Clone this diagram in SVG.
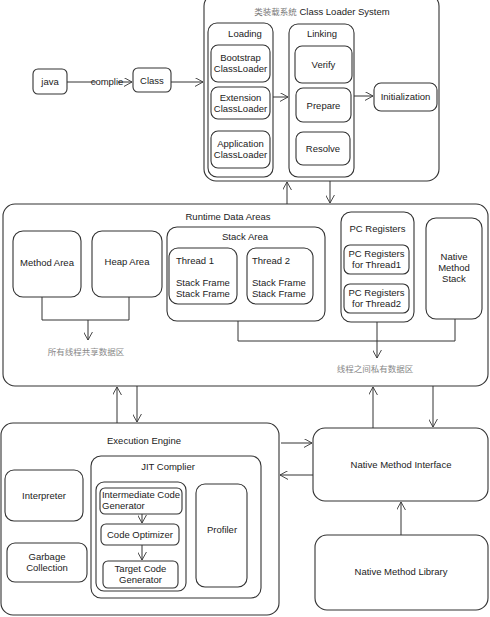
<svg xmlns="http://www.w3.org/2000/svg" width="490" height="617" viewBox="0 0 490 617">
<defs>
<marker id="arr" viewBox="0 0 10 10" refX="9" refY="5" markerWidth="9" markerHeight="9" orient="auto" markerUnits="userSpaceOnUse">
<path d="M0,0 L9,5 L0,10" fill="none" stroke="#333" stroke-width="1"/>
</marker>
<style>
rect{fill:#fff;stroke:#333;stroke-width:1.1}
text{font-family:"Liberation Sans",Arial,sans-serif;font-size:9.5px;fill:#222;text-anchor:middle}
.cn{font-family:"Noto Sans CJK SC","Liberation Sans",sans-serif;font-size:8.5px;fill:#888}
.c line,.c path{stroke:#333;stroke-width:1;fill:none}
.l{text-anchor:start}
</style>
</defs>
<rect x="0" y="0" width="490" height="617" style="fill:#fff;stroke:none"/>

<g id="class-loader-system">
<rect x="204" y="-6" width="235" height="187" rx="12"/>
<text x="322" y="15"><tspan class="cn" style="fill:#777">类装载系统</tspan> Class Loader System</text>
</g>
<g id="loading">
<rect x="208" y="23" width="65" height="154" rx="9"/>
<text x="245" y="37">Loading</text>
</g>
<g id="bootstrap"><rect x="211" y="45" width="59" height="37" rx="7"/><text x="240.5" y="61">Bootstrap</text><text x="240.5" y="72">ClassLoader</text></g>
<g id="extension"><rect x="211" y="87" width="59" height="32" rx="7"/><text x="240.5" y="101">Extension</text><text x="240.5" y="112">ClassLoader</text></g>
<g id="application"><rect x="211" y="131" width="59" height="37" rx="7"/><text x="240.5" y="147">Application</text><text x="240.5" y="158">ClassLoader</text></g>
<g id="linking">
<rect x="289" y="24" width="65" height="153" rx="9"/>
<text x="322" y="37">Linking</text>
</g>
<g id="verify"><rect x="295" y="46" width="57" height="37" rx="7"/><text x="323.5" y="68">Verify</text></g>
<g id="prepare"><rect x="296" y="88" width="55" height="34" rx="7"/><text x="323.5" y="109">Prepare</text></g>
<g id="resolve"><rect x="296" y="132" width="54" height="33" rx="7"/><text x="323" y="152">Resolve</text></g>
<g id="initialization"><rect x="374" y="83" width="63" height="28" rx="7"/><text x="405.5" y="100">Initialization</text></g>
<g id="java"><rect x="33" y="69" width="34" height="25" rx="5"/><text x="50" y="85">java</text></g>
<g id="class"><rect x="133" y="68" width="38" height="24" rx="5"/><text x="152" y="84">Class</text></g>

<g id="runtime-data-areas">
<rect x="3" y="204" width="485" height="182" rx="12"/>
<text x="228" y="220">Runtime Data Areas</text>
</g>
<g id="method-area"><rect x="13" y="231" width="68" height="66" rx="10"/><text x="47" y="266">Method Area</text></g>
<g id="heap-area"><rect x="92" y="231" width="70" height="66" rx="10"/><text x="127" y="265">Heap Area</text></g>
<g id="stack-area">
<rect x="167" y="227" width="158" height="94" rx="10"/>
<text x="245" y="240">Stack Area</text>
</g>
<g id="thread1"><rect x="169" y="248" width="68" height="56" rx="9"/><text class="l" x="176" y="264">Thread 1</text><text class="l" x="176" y="286">Stack Frame</text><text class="l" x="176" y="297">Stack Frame</text></g>
<g id="thread2"><rect x="247" y="248" width="66" height="56" rx="9"/><text class="l" x="252" y="264">Thread 2</text><text class="l" x="252" y="286">Stack Frame</text><text class="l" x="252" y="297">Stack Frame</text></g>
<g id="pc-registers">
<rect x="341" y="212" width="73" height="110" rx="10"/>
<text x="377.5" y="232">PC Registers</text>
</g>
<g id="pc-thread1"><rect x="344" y="245" width="65" height="29" rx="6"/><text x="376.5" y="257">PC Registers</text><text x="376.5" y="268">for Thread1</text></g>
<g id="pc-thread2"><rect x="344" y="284" width="65" height="29" rx="6"/><text x="376.5" y="296">PC Registers</text><text x="376.5" y="307">for Thread2</text></g>
<g id="native-method-stack"><rect x="426" y="218" width="56" height="101" rx="10"/><text x="454" y="260">Native</text><text x="454" y="271">Method</text><text x="454" y="282">Stack</text></g>
<g id="shared-label"><text class="cn" x="86" y="355">所有线程共享数据区</text></g>
<g id="private-label"><text class="cn" x="375" y="372">线程之间私有数据区</text></g>

<g id="execution-engine">
<rect x="1" y="423" width="278" height="192" rx="12"/>
<text x="144" y="444">Execution Engine</text>
</g>
<g id="interpreter"><rect x="5" y="470" width="78" height="51" rx="9"/><text x="44" y="499">Interpreter</text></g>
<g id="garbage-collection"><rect x="7" y="543" width="80" height="39" rx="8"/><text x="47" y="560">Garbage</text><text x="47" y="571">Collection</text></g>
<g id="jit-compiler">
<rect x="91" y="456" width="170" height="142" rx="10"/>
<text x="168" y="470">JIT Complier</text>
<rect x="96" y="482" width="90" height="109" rx="8"/>
</g>
<g id="intermediate-code-generator"><rect x="100" y="488" width="82" height="26" rx="5"/><text x="141" y="498">Intermediate Code</text><text class="l" x="102" y="509">Generator</text></g>
<g id="code-optimizer"><rect x="101" y="524" width="78" height="21" rx="5"/><text x="140" y="538">Code Optimizer</text></g>
<g id="target-code-generator"><rect x="103" y="561" width="75" height="27" rx="5"/><text x="140.5" y="572">Target Code</text><text x="140.5" y="583">Generator</text></g>
<g id="profiler"><rect x="196" y="484" width="51" height="103" rx="9"/><text x="222" y="533">Profiler</text></g>
<g id="native-method-interface"><rect x="313" y="428" width="175" height="73" rx="12"/><text x="401" y="468">Native Method Interface</text></g>
<g id="native-method-library"><rect x="315" y="535" width="173" height="75" rx="12"/><text x="401" y="575">Native Method Library</text></g>

<g id="connectors" class="c">
<line x1="67" y1="82" x2="96" y2="82"/>
<line x1="118" y1="82" x2="132" y2="82" marker-end="url(#arr)"/>
<text x="107" y="85">complie</text>
<line x1="171" y1="82" x2="203" y2="82" marker-end="url(#arr)"/>
<line x1="273" y1="97" x2="288" y2="97" marker-end="url(#arr)"/>
<line x1="354" y1="96" x2="373" y2="96" marker-end="url(#arr)"/>
<line x1="287" y1="204" x2="287" y2="182" marker-end="url(#arr)"/>
<line x1="330" y1="181" x2="330" y2="203" marker-end="url(#arr)"/>
<path d="M42,297 V320 H129 V297"/>
<line x1="88" y1="320" x2="88" y2="340" marker-end="url(#arr)"/>
<path d="M238,321 V341 H455 V319"/>
<line x1="377" y1="322" x2="377" y2="358" marker-end="url(#arr)"/>
<line x1="117" y1="423" x2="117" y2="387" marker-end="url(#arr)"/>
<line x1="137" y1="386" x2="137" y2="422" marker-end="url(#arr)"/>
<line x1="373" y1="428" x2="373" y2="387" marker-end="url(#arr)"/>
<line x1="433" y1="386" x2="433" y2="427" marker-end="url(#arr)"/>
<line x1="281" y1="443" x2="312" y2="443" marker-end="url(#arr)"/>
<line x1="313" y1="475" x2="280" y2="475" marker-end="url(#arr)"/>
<line x1="401" y1="535" x2="401" y2="502" marker-end="url(#arr)"/>
<line x1="142" y1="514" x2="142" y2="523" marker-end="url(#arr)"/>
<line x1="142" y1="545" x2="142" y2="560" marker-end="url(#arr)"/>
</g>
</svg>
